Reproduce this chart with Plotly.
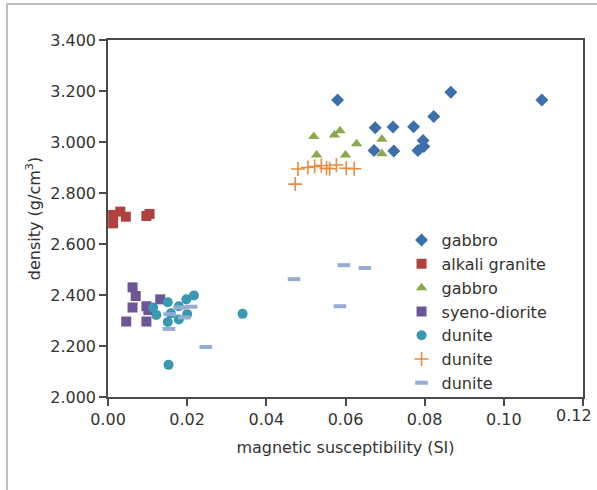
import plotly.graph_objects as go

# ---- data ----
gabbro1_x = [0.0580, 0.0866, 0.1096, 0.0823, 0.0675, 0.0720, 0.0772, 0.0672, 0.0722, 0.0796, 0.0798, 0.0783]
gabbro1_y = [3.165, 3.195, 3.165, 3.100, 3.056, 3.059, 3.060, 2.967, 2.965, 3.006, 2.982, 2.967]

granite_x = [0.0013, 0.0013, 0.0031, 0.0045, 0.0097, 0.0105]
granite_y = [2.714, 2.681, 2.727, 2.707, 2.710, 2.718]

gabbro2_x = [0.0520, 0.0572, 0.0586, 0.0628, 0.0692, 0.0527, 0.0600, 0.0692]
gabbro2_y = [3.022, 3.027, 3.044, 2.993, 3.011, 2.949, 2.949, 2.954]

syeno_x = [0.0062, 0.0070, 0.0062, 0.0097, 0.0102, 0.0132, 0.0046, 0.0097]
syeno_y = [2.430, 2.396, 2.351, 2.356, 2.341, 2.383, 2.296, 2.296]

dunite1_x = [0.0151, 0.0114, 0.0122, 0.0179, 0.0198, 0.0217, 0.0159, 0.0200, 0.0151, 0.0179, 0.0153, 0.0340]
dunite1_y = [2.372, 2.351, 2.322, 2.356, 2.383, 2.398, 2.328, 2.325, 2.294, 2.304, 2.126, 2.326]

dunite2_x = [0.0480, 0.0505, 0.0522, 0.0539, 0.0552, 0.0560, 0.0577, 0.0602, 0.0622, 0.0473]
dunite2_y = [2.894, 2.900, 2.904, 2.908, 2.897, 2.895, 2.910, 2.897, 2.895, 2.835]

dunite3_x = [0.0156, 0.0181, 0.0210, 0.0193, 0.0154, 0.0247, 0.0596, 0.0649, 0.0470, 0.0586]
dunite3_y = [2.325, 2.351, 2.354, 2.312, 2.267, 2.196, 2.517, 2.506, 2.462, 2.356]

x_ticks = [0.00, 0.02, 0.04, 0.06, 0.08, 0.10, 0.12]
x_tick_labels = ["0.00", "0.02", "0.04", "0.06", "0.08", "0.10", "0.12"]
y_ticks = [2.0, 2.2, 2.4, 2.6, 2.8, 3.0, 3.2, 3.4]
y_tick_labels = ["2.000", "2.200", "2.400", "2.600", "2.800", "3.000", "3.200", "3.400"]

FONT = "DejaVu Sans"
TXT = "#333333"

fig = go.Figure()

def add(x, y, name, color, symbol, size, line_width=0, line_color=None):
    fig.add_trace(go.Scatter(
        x=x, y=y, mode="markers", name=name,
        marker=dict(symbol=symbol, size=size, color=color,
                    line=dict(width=line_width, color=line_color or color)),
    ))

add(gabbro1_x, gabbro1_y, "gabbro", "#3d6fab", "diamond", 10)
add(granite_x, granite_y, "alkali granite", "#b0413e", "square", 10)
add(gabbro2_x, gabbro2_y, "gabbro", "#8ba94c", "triangle-up", 10)
add(syeno_x, syeno_y, "syeno-diorite", "#6e5598", "square", 10)
add(dunite1_x, dunite1_y, "dunite", "#3899b0", "circle", 10)
add(dunite2_x, dunite2_y, "dunite", "#ec8a3d", "cross-thin", 10, 1.6, "#ec8a3d")
add(dunite3_x, dunite3_y, "dunite", "#95acd4", "line-ew", 9, 4, "#95acd4")

axis_common = dict(
    showgrid=False, zeroline=False, showline=True, linecolor="#4a4a4a", linewidth=1.5,
    mirror=True, ticks="outside", ticklen=7, tickwidth=1.5, tickcolor="#4a4a4a",
    tickfont=dict(family=FONT, size=16, color=TXT),
)

# last x tick label is drawn as an annotation so it can sit inside the page edge
x_ticktext_axis = x_tick_labels[:-1] + [" "]

fig.update_layout(
    width=597, height=490,
    margin=dict(l=108, r=14, t=40, b=93),
    paper_bgcolor="white", plot_bgcolor="white",
    font=dict(family=FONT, size=16, color=TXT),
    xaxis=dict(range=[0, 0.120001], tickvals=x_ticks, ticktext=x_ticktext_axis,
               title=dict(text="magnetic susceptibility (SI)", font=dict(family=FONT, size=16, color=TXT), standoff=14),
               **axis_common),
    yaxis=dict(range=[2.0, 3.4], tickvals=y_ticks, ticktext=y_tick_labels,
               title=dict(text="density (g/cm<sup>3</sup>)", font=dict(family=FONT, size=16, color=TXT), standoff=6),
               **axis_common),
    legend=dict(x=0.618, y=0.487, xanchor="left", yanchor="top", bgcolor="rgba(0,0,0,0)",
                font=dict(family=FONT, size=16, color=TXT), itemwidth=30, tracegroupgap=0),
    showlegend=True,
    annotations=[dict(x=x_ticks[-1], xref="x", y=0, yref="paper", text=x_tick_labels[-1],
                      showarrow=False, xanchor="center", yanchor="top", xshift=-9, yshift=-7,
                      font=dict(family=FONT, size=16, color=TXT))],
    shapes=[dict(type="rect", xref="paper", yref="paper",
                 x0=(7 - 108) / 475, x1=1.2, y0=-0.4, y1=(397 - 4) / 357,
                 line=dict(color="#aaaaaa", width=1.5), fillcolor="rgba(0,0,0,0)", layer="below")],
)

fig.write_html("out.html")
